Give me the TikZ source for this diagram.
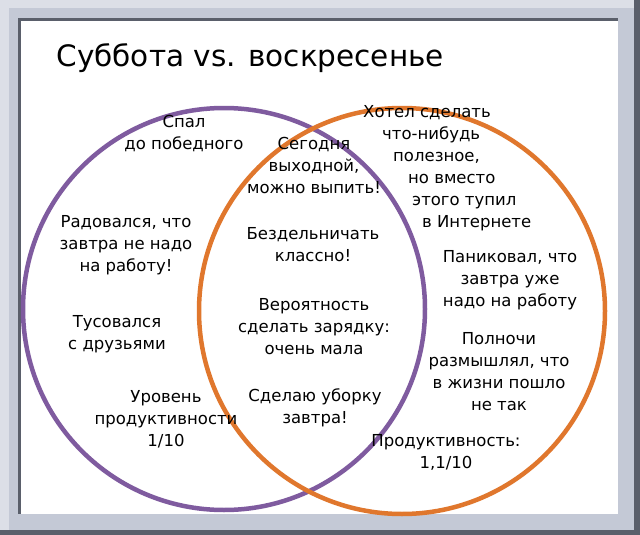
\documentclass[tikz,border=0pt]{standalone}
\usepackage{fontspec}
\setmainfont{DejaVu Sans}
\definecolor{satpurple}{HTML}{7F5B9F}
\definecolor{sunorange}{HTML}{E0772D}
\definecolor{framegrey}{HTML}{C4C9D6}
\definecolor{frameedge}{HTML}{5A5F6B}
\begin{document}
\begin{tikzpicture}[x=1pt,y=-1pt,
  note/.style={align=center,font=\fontsize{16.5}{22}\selectfont,inner sep=0pt},
  ring/.style={circle,draw,line width=4.5pt,minimum size=402pt,inner sep=0pt},
]
\useasboundingbox (0,0) rectangle (640,535);
\fill[framegrey] (0,0) rectangle (640,535);
\fill[framegrey!60!white] (0,0) rectangle (9,535);
\fill[framegrey!60!white] (0,0) rectangle (640,8);
\fill[frameedge] (634,0) rectangle (640,535);
\fill[frameedge] (0,530) rectangle (640,535);
\fill[frameedge] (18,18) rectangle (618,514);
\fill[white] (21,21) rectangle (618,514);
\node[anchor=west,font=\fontsize{29.5}{34}\selectfont] (title) at (53,58) {Суббота vs. воскресенье};
\node[ring,draw=satpurple] (sat) at (224,309) {};
\node[ring,draw=sunorange,minimum size=406pt] (sun) at (402,311) {};
\node[note] (slept) at (184,134) {Спал\\до победного};
\node[note] (glad) at (126,245) {Радовался, что\\завтра не надо\\на работу!};
\node[note] (party) at (117,334) {Тусовался\\с друзьями};
\node[note] (lowprod) at (166,419) {Уровень\\продуктивности\\1/10};
\node[note] (dayoff) at (314,165) {Сегодня\\выходной,\\можно выпить!};
\node[note] (idle) at (313,245) {Бездельничать\\классно!};
\node[note] (workout) at (314,327) {Вероятность\\сделать зарядку:\\очень мала};
\node[note] (cleanup) at (315,408) {Сделаю уборку\\завтра!};
\node[note,align=left,anchor=west] (web) at (363,168) {Хотел сделать\\
  \hspace*{19pt}что-нибудь\\
  \hspace*{30pt}полезное,\\
  \hspace*{45pt}но вместо\\
  \hspace*{49pt}этого тупил\\
  \hspace*{59pt}в Интернете};
\node[note] (panic) at (510,280) {Паниковал, что\\завтра уже\\надо на работу};
\node[note] (midnight) at (499,372) {Полночи\\размышлял, что\\в жизни пошло\\не так};
\node[note] (highprod) at (446,452) {Продуктивность:\\1,1/10};
\end{tikzpicture}
\end{document}
